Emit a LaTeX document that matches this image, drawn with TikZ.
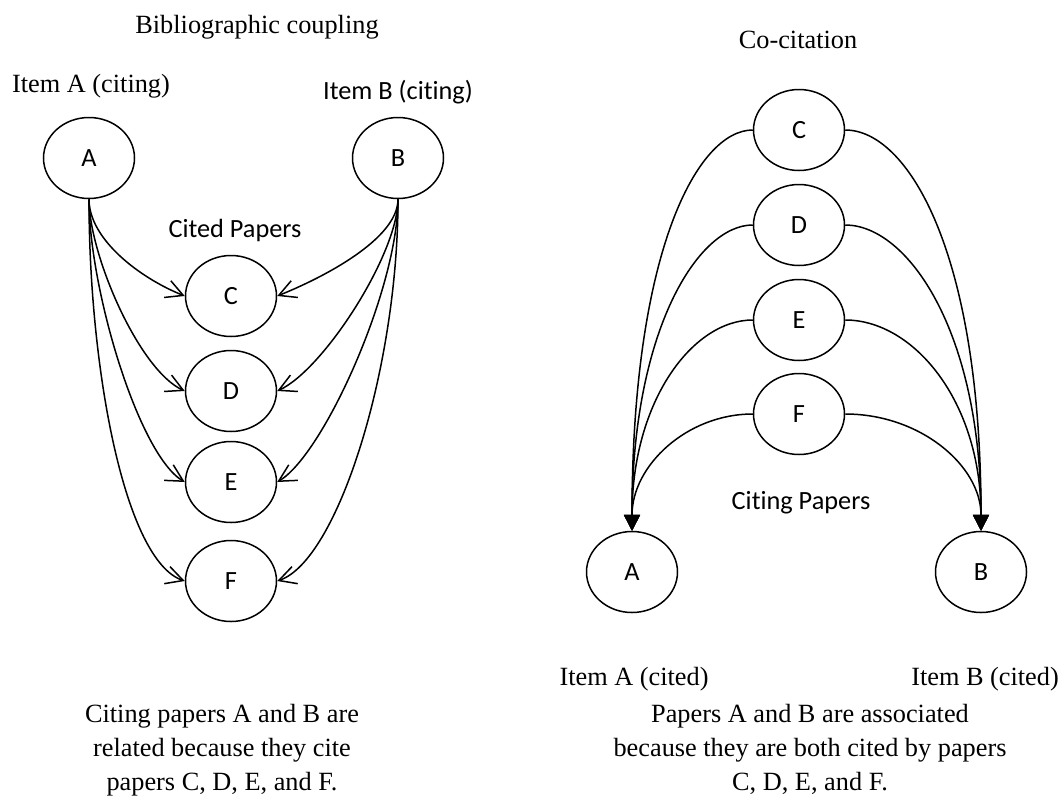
\documentclass[tikz,border=0pt]{standalone}
\usepackage{fontspec}
\setmainfont{Liberation Serif}
\newfontfamily\calibri[Ligatures=NoCommon]{Carlito}
\usetikzlibrary{arrows.meta,shapes.geometric}
\begin{document}
\begin{tikzpicture}[x=0.5pt,y=-0.5pt,
  every node/.style={font=\fontsize{13.15}{17}\selectfont},
  paper/.style={ellipse,draw,line width=0.75pt,minimum width=45.5pt,minimum height=40.5pt,inner sep=0pt,font=\calibri\fontsize{13.15}{16}\selectfont},
  seriflabel/.style={anchor=base,inner sep=0pt},
  sanslabel/.style={anchor=base,inner sep=0pt,font=\calibri\fontsize{13.15}{16}\selectfont},
  caption/.style={anchor=base,inner sep=0pt,align=center},
  cite/.style={line width=0.75pt,-{Straight Barb[length=8.5pt,width=9pt,line width=0.75pt]}},
  cocite/.style={line width=0.75pt,-{Triangle[length=8pt,width=8pt]}},
]
\useasboundingbox (0,0) rectangle (1059,798);

% ---------- Bibliographic coupling ----------
\node[seriflabel] (t1) at (257,33) {Bibliographic coupling};
\node[seriflabel] (iA) at (91,92) {Item A (citing)};
\node[sanslabel] (iB) at (398,99) {Item B (citing)};
\node[sanslabel] (cp) at (235,237) {Cited Papers};

\node[paper] (lA) at (89,158) {A};
\node[paper] (lB) at (398,158) {B};
\node[paper] (lC) at (231,296) {C};
\node[paper] (lD) at (231,391) {D};
\node[paper] (lE) at (231,482) {E};
\node[paper] (lF) at (231,581) {F};

\draw[cite] (lA.south) .. controls +(0,40) and +(-45,-18) .. (lC.west);
\draw[cite] (lA.south) .. controls +(0,55) and +(-46,-21) .. (lD.west);
\draw[cite] (lA.south) .. controls +(0,90) and +(-46,-27) .. (lE.west);
\draw[cite] (lA.south) .. controls +(0,170) and +(-60,-20) .. (lF.west);

\draw[cite] (lB.south) .. controls +(0,40) and +(45,-18) .. (lC.east);
\draw[cite] (lB.south) .. controls +(0,55) and +(46,-21) .. (lD.east);
\draw[cite] (lB.south) .. controls +(0,90) and +(46,-27) .. (lE.east);
\draw[cite] (lB.south) .. controls +(0,170) and +(60,-20) .. (lF.east);

\node[caption] (cap1) at (222,790) {Citing papers A and B are\\related because they cite\\papers C, D, E, and F.};

% ---------- Co-citation ----------
\node[seriflabel] (t2) at (798,48) {Co-citation};
\node[sanslabel] (ctp) at (801,509) {Citing Papers};

\node[paper] (rC) at (799,130) {C};
\node[paper] (rD) at (799,225) {D};
\node[paper] (rE) at (799,320) {E};
\node[paper] (rF) at (799,414) {F};
\node[paper] (rA) at (632,572) {A};
\node[paper] (rB) at (981,572) {B};

\draw[cocite] (rC.west) .. controls +(-55,0) and +(0,-280) .. (rA.north);
\draw[cocite] (rD.west) .. controls +(-55,0) and +(0,-200) .. (rA.north);
\draw[cocite] (rE.west) .. controls +(-60,0) and +(0,-130) .. (rA.north);
\draw[cocite] (rF.west) .. controls +(-66,0) and +(0,-65) .. (rA.north);

\draw[cocite] (rC.east) .. controls +(62,0) and +(0,-280) .. (rB.north);
\draw[cocite] (rD.east) .. controls +(62,0) and +(0,-200) .. (rB.north);
\draw[cocite] (rE.east) .. controls +(68,0) and +(0,-130) .. (rB.north);
\draw[cocite] (rF.east) .. controls +(75,0) and +(0,-65) .. (rB.north);

\node[seriflabel] (cA) at (634,685) {Item A (cited)};
\node[seriflabel] (cB) at (985,685) {Item B (cited)};

\node[caption] (cap2) at (810,790) {Papers A and B are associated\\because they are both cited by papers\\C, D, E, and F.};
\end{tikzpicture}
\end{document}
